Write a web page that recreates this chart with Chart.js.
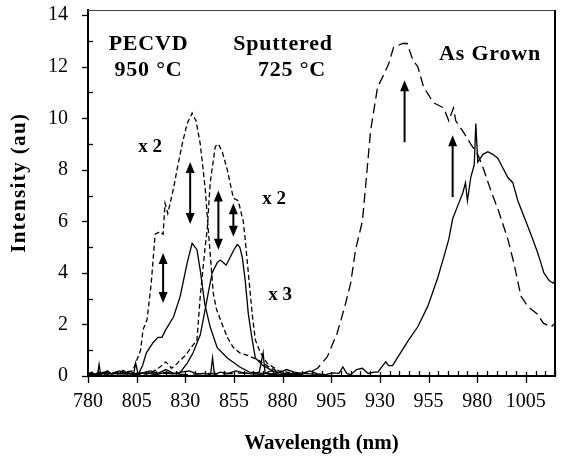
<!DOCTYPE html>
<html>
<head>
<meta charset="utf-8">
<script src="https://cdn.jsdelivr.net/npm/chart.js@4/dist/chart.umd.min.js"></script>
<style>
html,body{margin:0;padding:0;background:#fff;}
#wrap{width:561px;height:456px;}
</style>
</head>
<body>
<div id="wrap"><canvas id="c" width="561" height="456"></canvas></div>
<script>
// ---------- DATA ----------
const xTickValues = [780, 805, 830, 855, 880, 905, 930, 955, 980, 1005];
const yTickValues = [0, 2, 4, 6, 8, 10, 12, 14];

// PECVD 950 °C, solid
const pecvdX = [780,782,783.5,785,785.7,786.5,788,790,792,794,796,798,800,802,803.5,804.5,805.5,806,808,810,813.5,816,818,820,824,827.4,831,833.5,836,837.7,840,842.8,846.4,851.6,858,863,870,880,890,900];
const pecvdY = [0.08,0.15,0.05,0.1,0.45,0.05,0.12,0.2,0.08,0.15,0.1,0.22,0.12,0.18,0.1,0.5,0.15,0.1,0.4,0.9,1.3,1.5,1.5,1.8,2.3,3.1,4.4,5.15,4.9,4.1,2.8,1.9,1.1,0.7,0.35,0.15,0.1,0.05,0.1,0.05];
// PECVD 950 °C, dashed (x 2)
const pecvdX2X = [780,786,792,798,803,805,807,808.3,810.4,812.5,814.5,817,818.6,819.6,821,824,826,828.4,831,833.5,835.5,837.7,840.2,842,844.4,846,849,851.6,854.7,858,862,868,874,880,890];
const pecvdX2Y = [0.05,0.12,0.08,0.15,0.2,0.6,1.0,1.8,2.2,3.6,5.5,5.6,5.5,6.7,6.3,7.3,8.1,9.0,9.8,10.2,9.9,9.0,7.3,5.5,3.2,2.6,2.0,1.5,1.1,0.9,0.8,0.6,0.3,0.1,0.05];
// Sputtered 725 °C, solid (x 3)
const sputX = [780,790,800,810,815,820,824,827,831,834,837.7,840,842,843.8,846.4,848,849.5,851,853,855,856.7,858,859.3,860.8,862.4,864.4,866,870,875,880,890];
const sputY = [0.05,0.1,0.08,0.12,0.05,0.15,0.08,0.1,0.5,0.9,1.6,2.5,3.3,4.0,4.4,4.5,4.4,4.3,4.6,4.9,5.1,5.0,4.6,3.7,2.4,1.4,0.7,0.4,0.2,0.1,0.05];
// Sputtered 725 °C, dashed (x 2)
const sputX2X = [780,790,800,806,812,817,820,823,826,830,833,836,837.7,840.2,841.3,842.8,845.4,847,849,851.6,854.7,857.2,859.8,860.8,861.9,864.4,866,868.6,872,878,890];
const sputX2Y = [0.05,0.08,0.12,0.05,0.1,0.35,0.55,0.3,0.5,0.8,1.1,1.4,3.1,5.0,5.7,7.5,8.9,9.0,8.7,8.0,6.9,6.8,6.0,5.3,4.4,2.4,1.4,0.9,0.5,0.2,0.05];
// As grown, solid
const grownX = [780,784,788,792,796,800,804,808,812,816,820,824,828,832,836,840,843,844,845,848,852,856,860,864,868,870,871,874,878,882,886,890,894,898,902,906,909,911,913,915,918,921,924,927,929,931,933,934.5,936.5,940.6,944.8,949.4,954.6,959.7,962.8,965.4,967.4,970,972.6,974,975,976.7,978.5,979.3,980.3,983,985.5,988,990.6,993,995.8,998.3,1000.9,1004,1007.6,1011,1012.7,1014.3,1017,1019,1020];
const grownY = [0.1,0.05,0.15,0.08,0.2,0.1,0.05,0.12,0.2,0.1,0.25,0.1,0.15,0.2,0.08,0.1,0.05,0.7,0.05,0.15,0.1,0.2,0.12,0.08,0.15,0.9,0.1,0.2,0.12,0.25,0.15,0.1,0.2,0.08,0.05,0.12,0.1,0.35,0.1,0.05,0.25,0.3,0.1,0.15,0.15,0.35,0.55,0.4,0.4,0.9,1.4,1.9,2.7,3.8,4.6,5.3,6.1,6.6,7.1,7.5,6.8,7.7,8.2,9.8,8.3,8.6,8.7,8.6,8.45,8.1,7.7,7.5,6.8,6.2,5.5,4.8,4.4,4.0,3.7,3.6,3.7];
// As grown, dashed
const grownDX = [780,790,800,810,820,830,840,850,860,870,880,890,894,898,903,908,912,915,917.5,921,922.6,925.2,928.8,931.4,934.5,937,941.7,944,947,949.5,952.5,957.6,962.8,965.4,967.8,969,972.6,976.7,980.3,983.4,987,991,995.8,998.8,1002.5,1006,1011,1014,1018,1020];
const grownDY = [0.05,0.1,0.08,0.12,0.1,0.05,0.1,0.08,0.12,0.05,0.1,0.08,0.15,0.3,0.75,1.65,2.7,3.6,4.9,6.0,7.3,9.5,11.2,11.6,12.1,12.75,12.9,12.9,12.25,12.0,11.2,10.6,10.4,9.9,10.4,9.9,9.5,9.0,8.6,8.0,7.2,6.4,5.3,4.4,3.1,2.7,2.4,2.05,1.9,2.05];

// annotation texts (wavelength, intensity positions)
const labelTexts = ["PECVD", "950 °C", "Sputtered", "725 °C", "As Grown", "x 2", "x 2", "x 3"];
const labelX = [811.1, 811.1, 880.2, 884.8, 986.6, 811.9, 875.6, 878.7];
const labelY = [12.86, 11.87, 12.86, 11.87, 12.47, 8.87, 6.87, 3.14];
// arrows
const arrowX = [818.6, 832.5, 847, 854.7, 942.7, 967.4];
const arrowFrom = [2.83, 5.9, 4.9, 5.4, 9.07, 6.94];
const arrowTo = [4.77, 8.3, 7.2, 6.7, 11.47, 9.34];
const arrowDouble = [true, true, true, true, false, false];

const xTitle = 'Wavelength (nm)';
const yTitle = 'Intensity (au)';

// ---------- CHART ----------
const pts = (xs, ys) => xs.map((x, i) => ({x: x, y: ys[i]}));
const SERIF = '"Liberation Serif","DejaVu Serif",serif';

function ds(label, xs, ys, dash, w) {
  return {label, data: pts(xs, ys), borderColor: '#000', backgroundColor: '#000',
    borderWidth: w, borderDash: dash, pointRadius: 0, tension: 0, fill: false};
}

function arrowHead(ctx, x, y, dir) {
  const L = 11, W = 4.5;
  ctx.beginPath();
  ctx.moveTo(x, y);
  ctx.lineTo(x - W, y - dir * L);
  ctx.lineTo(x + W, y - dir * L);
  ctx.closePath();
  ctx.fill();
}

function noPad(s) { s.paddingTop = 0; s.paddingBottom = 0; s.paddingLeft = 0; s.paddingRight = 0; }

const decor = {
  id: 'decor',
  afterDraw(chart) {
    const ctx = chart.ctx, xs = chart.scales.x, ys = chart.scales.y;
    const a = chart.chartArea;
    ctx.save();
    ctx.fillStyle = '#000';
    // frame: top (thin) and right
    ctx.lineWidth = 1;
    ctx.strokeStyle = '#444';
    ctx.beginPath(); ctx.moveTo(a.left, a.top + 0.5); ctx.lineTo(a.right, a.top + 0.5); ctx.stroke();
    ctx.strokeStyle = '#000';
    ctx.lineWidth = 2;
    ctx.beginPath(); ctx.moveTo(a.right, a.top); ctx.lineTo(a.right, a.bottom); ctx.stroke();
    // ticks
    ctx.lineWidth = 1.3;
    for (let v = 780; v <= 1020; v += 5) {
      const px = Math.round(xs.getPixelForValue(v)) + 0.5;
      const major = xTickValues.includes(v);
      ctx.beginPath();
      if (major) { ctx.moveTo(px, a.bottom - 4); ctx.lineTo(px, a.bottom + 7); }
      else { ctx.moveTo(px, a.bottom - 5); ctx.lineTo(px, a.bottom); }
      ctx.stroke();
    }
    for (let v = 0; v <= 14; v += 1) {
      const py = Math.round(ys.getPixelForValue(v)) + 0.5;
      ctx.beginPath();
      if (v % 2 === 0) { ctx.moveTo(a.left - 6, py); ctx.lineTo(a.left, py); }
      else { ctx.moveTo(a.left, py); ctx.lineTo(a.left + 5, py); }
      ctx.stroke();
    }
    // arrows
    ctx.lineWidth = 2;
    for (let i = 0; i < arrowX.length; i++) {
      const px = xs.getPixelForValue(arrowX[i]);
      const yb = ys.getPixelForValue(arrowFrom[i]);
      const yt = ys.getPixelForValue(arrowTo[i]);
      ctx.beginPath();
      ctx.moveTo(px, arrowDouble[i] ? yb - 8 : yb);
      ctx.lineTo(px, yt + 8);
      ctx.stroke();
      arrowHead(ctx, px, yt, -1);
      if (arrowDouble[i]) arrowHead(ctx, px, yb, 1);
    }
    // annotation texts
    ctx.textAlign = 'center';
    ctx.textBaseline = 'middle';
    for (let i = 0; i < labelTexts.length; i++) {
      const small = labelTexts[i].startsWith('x ');
      ctx.font = 'bold ' + (small ? 19 : 22) + 'px ' + SERIF;
      ctx.letterSpacing = small ? '0px' : '0.8px';
      ctx.fillText(labelTexts[i], xs.getPixelForValue(labelX[i]), ys.getPixelForValue(labelY[i]));
    }
    // y axis title
    ctx.save();
    ctx.translate(20, ys.getPixelForValue(7.5));
    ctx.rotate(-Math.PI / 2);
    ctx.font = 'bold 21px ' + SERIF;
    ctx.letterSpacing = '1.4px';
    ctx.fillText(yTitle, 0, 0);
    ctx.restore();
    ctx.restore();
  }
};

new Chart(document.getElementById('c'), {
  type: 'line',
  data: {
    datasets: [
      ds('PECVD', pecvdX, pecvdY, [], 1.3),
      ds('PECVD x2', pecvdX2X, pecvdX2Y, [5, 3], 1.3),
      ds('Sputtered x3', sputX, sputY, [], 1.3),
      ds('Sputtered x2', sputX2X, sputX2Y, [5, 3], 1.3),
      ds('As Grown', grownX, grownY, [], 1.3),
      ds('As Grown dashed', grownDX, grownDY, [10, 5], 1.3)
    ]
  },
  options: {
    responsive: false,
    animation: false,
    devicePixelRatio: 1,
    layout: {autoPadding: false, padding: {left: 0, right: 6, top: 10, bottom: 0}},
    plugins: {legend: {display: false}, tooltip: {enabled: false}},
    scales: {
      x: {
        type: 'linear', min: 780, max: 1020,
        afterBuildTicks: s => { s.ticks = xTickValues.map(v => ({value: v})); },
        afterFit: s => { s.height = 80; noPad(s); },
        grid: {display: false, drawTicks: false},
        border: {display: true, color: '#000', width: 2},
        ticks: {autoSkip: false, maxRotation: 0, padding: 14, color: '#000',
          callback: v => String(v),
          font: {family: SERIF, size: 20}},
        title: {display: true, text: xTitle, color: '#000',
          font: {family: SERIF, size: 21, weight: 'bold'}, padding: {top: 0, bottom: 0}}
      },
      y: {
        min: 0, max: 14.2,
        afterBuildTicks: s => { s.ticks = yTickValues.map(v => ({value: v})); },
        afterFit: s => { s.width = 88; noPad(s); },
        grid: {display: false, drawTicks: false},
        border: {display: true, color: '#000', width: 2},
        ticks: {padding: 20, color: '#000', callback: v => String(v),
          font: {family: SERIF, size: 20}},
        title: {display: false}
      }
    }
  },
  plugins: [decor]
});
</script>
</body>
</html>
